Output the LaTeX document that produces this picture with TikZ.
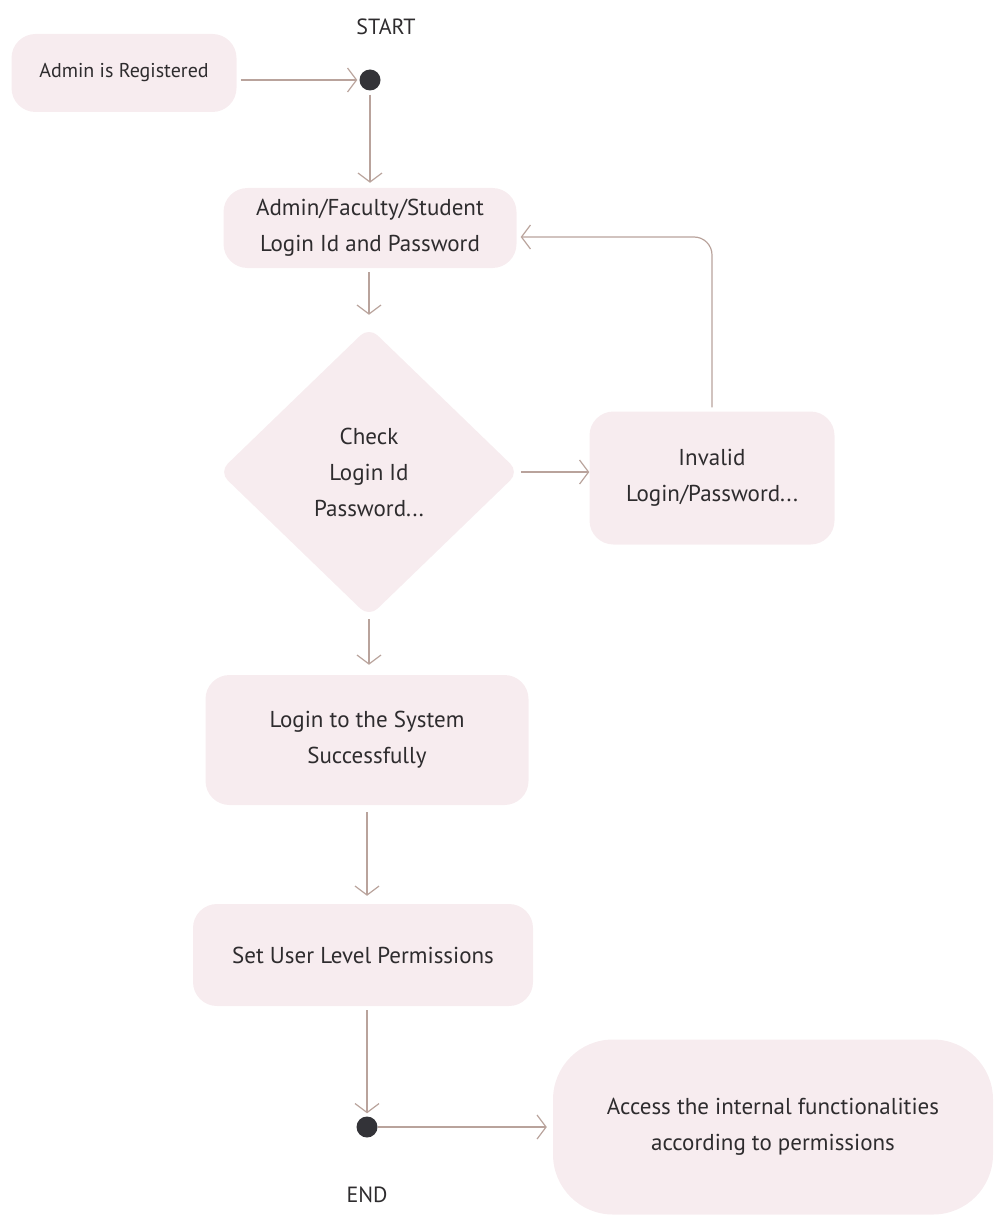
\documentclass[tikz,border=0pt]{standalone}
\usepackage{fontspec}
\setmainfont{PT Sans}
\usepackage{tikz}
\usetikzlibrary{arrows.meta,shapes.geometric}
\definecolor{boxfill}{HTML}{F7ECEF}
\definecolor{flowline}{HTML}{B9A39C}
\definecolor{dotfill}{HTML}{333338}
\definecolor{ink}{HTML}{2E2C2E}
\tikzset{>={Straight Barb[length=9pt,width=24pt,line width=1.2pt]}}
\tikzset{
  state/.style={rectangle, rounded corners=24pt, fill=boxfill, align=center,
    text=ink, font=\fontsize{23}{36}\selectfont, inner sep=0pt},
  check/.style={diamond, rounded corners=12pt, fill=boxfill, align=center,
    text=ink, font=\fontsize{23}{36}\selectfont, inner sep=0pt,
    minimum width=300pt, minimum height=290pt},
  dot/.style={circle, fill=dotfill, minimum size=21pt, inner sep=0pt},
  flow/.style={->, draw=flowline, line width=1.2pt},
  tag/.style={text=ink, font=\fontsize{22}{24}\selectfont}
}

\begin{document}
\begin{tikzpicture}[x=1pt, y=-1pt]

  \useasboundingbox (0,0) rectangle (993,1225);

  % start
  \node[tag] (startlbl) at (386, 27) {START};
  \node[dot] (start) at (370, 80) {};
  \node[state, minimum width=225pt, minimum height=78pt,
    font=\fontsize{20}{22}\selectfont] (admin) at (124, 73) {Admin is Registered};

  % login input
  \node[state, minimum width=293pt, minimum height=80pt] (creds) at (370, 228)
    {Admin/Faculty/Student\\Login Id and Password};

  % decision
  \node[check] (verify) at (369, 472) {Check\\Login Id\\Password...};
  \node[state, minimum width=245pt, minimum height=133pt] (invalid) at (712, 478)
    {Invalid\\Login/Password...};

  % success path
  \node[state, minimum width=323pt, minimum height=130pt] (login) at (367, 740)
    {Login to the System\\Successfully};
  \node[state, minimum width=340pt, minimum height=102pt] (perms) at (363, 955)
    {Set User Level Permissions};

  % end
  \node[dot] (finish) at (367, 1127) {};
  \node[tag] (endlbl) at (367, 1195) {END};
  \node[state, rounded corners=60pt, minimum width=440pt, minimum height=175pt] (access) at (773, 1127)
    {Access the internal functionalities\\according to permissions};

  \coordinate (loopcorner) at (712, 237);

  \draw[flow] ([xshift=4pt]admin.east |- start) -- ([xshift=-2pt]start.west); % admin -> start
  \draw[flow] ([yshift=-4pt]start.south) -- ([yshift=5pt]start.south |- creds.north);
  \draw[flow] ([yshift=-4pt]creds.south -| verify) -- ([yshift=12pt]verify.north);
  \draw[flow] ([xshift=2pt]verify.east) -- (invalid.west |- verify.east); % -> invalid
  \draw[flow, rounded corners=18pt] ([yshift=4pt]invalid.north) -- (loopcorner)
    -- ([xshift=4pt]creds.east |- loopcorner);
  \draw[flow] ([yshift=-2pt]verify.south) -- ([yshift=10pt]verify.south |- login.north);
  \draw[flow] ([yshift=-7pt]login.south) -- ([yshift=8pt]login.south |- perms.north);
  \draw[flow] ([yshift=-4pt]perms.south -| finish) -- ([yshift=3pt]finish.north);
  \draw[flow] (finish.east) -- ([xshift=-6pt]access.west |- finish);

\end{tikzpicture}
\end{document}
